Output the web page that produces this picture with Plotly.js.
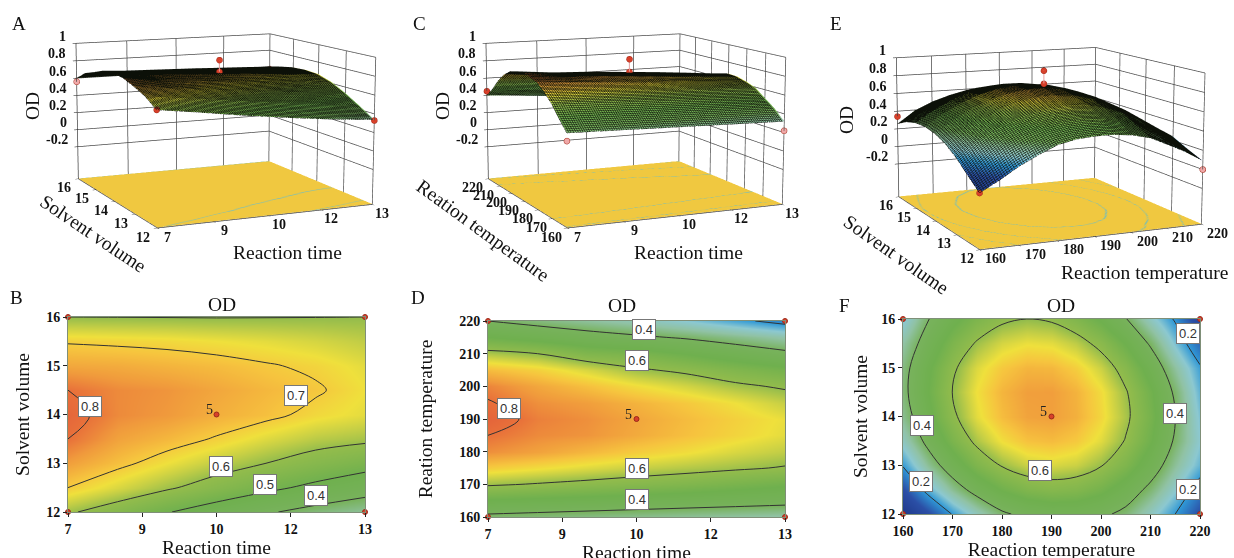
<!DOCTYPE html>
<html><head><meta charset="utf-8">
<script src="https://cdn.plot.ly/plotly-3.0.1.min.js"></script>
<style>html,body{margin:0;padding:0;background:#fff;overflow:hidden}#w{position:relative;width:1234px;height:558px;overflow:hidden}#g{position:absolute;left:0;top:-420px;width:1234px;height:1100px}</style></head>
<body><div id="w"><div id="g"></div></div>
<script>
const timeVals=[7,8,9,10,11,12,13];
const solventRows=[12,12.5,13,13.5,14,14.5,15,15.5,16];
const tempRows=[160,165,170,175,180,185,190,195,200,205,210,215,220];
const tempCols=[160,165,170,175,180,185,190,195,200,205,210,215,220];
const odTimeSolvent=[
[.61,.56,.505,.455,.41,.37,.34],
[.70,.655,.61,.565,.52,.48,.44],
[.755,.715,.675,.635,.60,.565,.535],
[.80,.75,.725,.695,.66,.63,.615],
[.82,.775,.76,.735,.715,.685,.665],
[.80,.775,.765,.745,.725,.707,.675],
[.745,.74,.73,.72,.705,.69,.665],
[.695,.69,.685,.675,.665,.652,.635],
[.60,.599,.598,.597,.598,.599,.60]];
const odTimeTemp=[
[.38,.37,.36,.35,.34,.33,.32],
[.49,.48,.47,.46,.45,.44,.43],
[.61,.595,.58,.565,.55,.53,.51],
[.70,.68,.66,.64,.625,.61,.595],
[.77,.75,.725,.70,.68,.655,.635],
[.80,.775,.765,.74,.715,.69,.665],
[.825,.785,.77,.745,.72,.695,.67],
[.805,.77,.755,.73,.705,.675,.64],
[.78,.745,.715,.68,.65,.615,.59],
[.72,.695,.655,.61,.585,.55,.52],
[.625,.60,.55,.535,.50,.46,.42],
[.50,.47,.44,.415,.39,.355,.32],
[.40,.37,.34,.31,.27,.22,.17]];
const odTempSolvent=[
[-.02,.085,.205,.30,.385,.425,.44,.44,.42,.375,.29,.20,.09],
[.09,.23,.347,.44,.504,.545,.561,.552,.517,.458,.375,.275,.16],
[.207,.344,.457,.545,.606,.644,.656,.644,.605,.542,.455,.342,.24],
[.294,.427,.536,.62,.678,.712,.72,.704,.662,.595,.504,.388,.27],
[.35,.479,.584,.665,.719,.749,.753,.734,.688,.617,.522,.402,.257],
[.374,.499,.601,.677,.728,.754,.755,.731,.682,.607,.509,.385,.236],
[.366,.488,.586,.659,.705,.728,.725,.698,.644,.566,.464,.336,.21],
[.328,.446,.54,.609,.652,.671,.664,.633,.576,.494,.388,.257,.13],
[.258,.395,.48,.54,.585,.60,.59,.55,.49,.405,.29,.19,.05]];
const timeTicks=[7,8.5,10,11.5,13], timeLabels=['7','9','10','12','13'];
const solventTicks=[12,13,14,15,16];
const tempTicks3=[160,170,180,190,200,210,220];
const odTicks=[-.2,0,.2,.4,.6,.8,1], odLabels=['-0.2','0','0.2','0.4','0.6','0.8','1'];
const ptA={x:[7,13,7,13,10,10],y:[12,12,16,16,14,14],z:[.61,.33,.56,.57,.76,.89],c:['r','r','p','r','r','r']};
const ptC={x:[7,13,7,13,10,10],y:[160,160,220,220,190,190],z:[.30,.22,.45,.15,.76,.90],c:['p','p','r','r','r','r']};
const ptE={x:[160,220,160,220,190,190],y:[12,12,16,16,14,14],z:[-.02,0,.34,.02,.80,.94],c:['r','p','r','r','r','r']};
const labelsB=[['0.8',7.44,14.17],['0.7',11.6,14.38],['0.6',10.1,12.93],['0.5',10.97,12.57],['0.4',12.01,12.34]];
const labelsD=[['0.4',10.15,217.4],['0.6',10,207.8],['0.8',7.43,193.2],['0.6',10,174.8],['0.4',10,165.3]];
const labelsF=[['0.2',217.5,15.71],['0.4',215,14.06],['0.6',187.7,12.9],['0.4',163.9,13.81],['0.2',163.7,12.66],['0.2',217.5,12.5]];

const SERIF='"Liberation Serif","Times New Roman",serif';
const colorStops=[[-.05,'#1c3484'],[.1,'#2b4fa6'],[.2,'#2f98d6'],[.27,'#8cc8d0'],[.33,'#90c2a4'],[.4,'#78b25c'],[.5,'#6fb04e'],[.6,'#93bc4c'],[.64,'#c6cf45'],[.675,'#efe03c'],[.71,'#f6c43e'],[.76,'#f09a3c'],[.8,'#e8703a'],[.85,'#e0583a']];
const cMin=-.05,cMax=.85;
const cs=colorStops.map(s=>[(s[0]-cMin)/(cMax-cMin),s[1]]);
const Y='#f0c840',C='#62bcd0';
const floorCs=[[0,Y],[.195,Y],[.2,C],[.205,Y],[.395,Y],[.4,C],[.405,Y],[.595,Y],[.6,C],[.605,Y],[1,Y]];
const floorZ=-.575;
const PTC={r:'#d8402a',p:'#f0a8a8'};

function surf(scene,x,y,z,dx,dy){return [
 {type:'surface',scene,x,y,z,surfacecolor:z,colorscale:cs,cmin:cMin,cmax:cMax,showscale:false,hoverinfo:'skip',
  lighting:{ambient:1,diffuse:0,specular:0,roughness:1,fresnel:0},
  contours:{x:{show:true,start:x[0],end:x[x.length-1],size:dx,color:'#0c1008',width:1,highlight:false},
            y:{show:true,start:y[0],end:y[y.length-1],size:dy,color:'#0c1008',width:1,highlight:false},
            z:{highlight:false}}},
 {type:'surface',scene,x,y,z:z.map(r=>r.map(()=>floorZ)),surfacecolor:z,colorscale:floorCs,cmin:0,cmax:1,showscale:false,hoverinfo:'skip',
  lighting:{ambient:1,diffuse:0,specular:0,roughness:1,fresnel:0},contours:{x:{highlight:false},y:{highlight:false},z:{highlight:false}}}
];}
function pts(scene,p){return [
 {type:'scatter3d',scene,mode:'lines',x:p.x.slice(4),y:p.y.slice(4),z:p.z.slice(4),line:{color:'#e8a0a0',width:2},hoverinfo:'skip',showlegend:false},
 {type:'scatter3d',scene,mode:'markers',x:p.x,y:p.y,z:p.z,marker:{size:3.5,color:p.c.map(k=>PTC[k]),line:{color:'#a02818',width:1}},hoverinfo:'skip',showlegend:false}
];}
function cont(xa,ya,x,y,z,start,end,size){return {type:'contour',xaxis:xa,yaxis:ya,x,y,z,colorscale:cs,zmin:cMin,zmax:cMax,showscale:false,
 contours:{coloring:'heatmap',start,end,size},line:{color:'#333',width:1,smoothing:1},hoverinfo:'skip'};}
function dots(xa,ya,x0,x1,y0,y1,cx,cy){return {type:'scatter',mode:'markers',xaxis:xa,yaxis:ya,cliponaxis:false,x:[x0,x1,x0,x1,cx],y:[y0,y0,y1,y1,cy],
 marker:{size:5,color:'#d8402a',line:{color:'#9a2a1a',width:1}},hoverinfo:'skip',showlegend:false};}

const data=[
 ...surf('scene',timeVals,solventRows,odTimeSolvent,.06,.046),...pts('scene',ptA),
 ...surf('scene2',timeVals,tempRows,odTimeTemp,.06,.7),...pts('scene2',ptC),
 ...surf('scene3',tempCols,solventRows,odTempSolvent,.6,.046),...pts('scene3',ptE),
 cont('x','y',timeVals,solventRows,odTimeSolvent,.4,.8,.1),dots('x','y',7,13,12,16,10,14),
 cont('x2','y2',timeVals,tempRows,odTimeTemp,.2,.8,.2),dots('x2','y2',7,13,160,220,10,190),
 cont('x3','y3',tempCols,solventRows,odTempSolvent,.2,.6,.2),dots('x3','y3',160,220,12,16,190,14)
];

const W=1234,H=1100,OFF=420;
function ax2(px0,px1,anchor,extra,isY){
 const dom=isY?[1-(px1+OFF)/H,1-(px0+OFF)/H]:[px0/W,px1/W];
 return Object.assign({domain:dom,anchor,ticks:'outside',ticklen:4,tickcolor:'#222',showgrid:false,zeroline:false,showline:true,mirror:true,linecolor:'#7f8f78',linewidth:1,
  tickfont:{family:SERIF,size:14,color:'#111',weight:'bold'}},extra);
}
function t(text,standoff){return {text,font:{family:SERIF,size:19.5,color:'#111'},standoff};}
function axis3(rng,tv,tt){return {range:rng,tickvals:tv,ticktext:tt,showticklabels:false,title:{text:''},showgrid:true,gridcolor:'#4a4a4a',gridwidth:1.5,zeroline:false,showbackground:false,showline:true,linecolor:'#444',linewidth:1.5,ticks:'outside',ticklen:3,tickcolor:'#111',showspikes:false};}
function sceneAnn(xt,xl,x0,yt,yl,y0,zx,zy,sx,sy){
 const f={family:SERIF,size:14,color:'#111',weight:'bold'},o=[];
 xt.forEach((v,i)=>o.push({x:v,y:y0,z:-.58,text:xl[i],showarrow:false,font:f,xshift:sx,yshift:-9}));
 yt.forEach((v,i)=>o.push({x:x0,y:v,z:-.58,text:yl[i],showarrow:false,font:f,xshift:sy,yshift:-9}));
 odTicks.forEach((v,i)=>o.push({x:zx,y:zy,z:v,text:odLabels[i],showarrow:false,font:f,xanchor:'right',xshift:-8,yshift:7}));
 return o;
}
function scene(dx0,dx1,xr,xt,xl,yr,yt,yl,eye,center,asp,sx,sy){return {
 domain:{x:[dx0/W,dx1/W],y:[0,1]},aspectmode:'manual',aspectratio:asp,
 camera:{eye,center,up:{x:0,y:0,z:1}},
 xaxis:axis3(xr,xt,xl),yaxis:axis3(yr,yt,yl),zaxis:axis3([-.58,1],odTicks,odLabels),
 annotations:sceneAnn(xt,xl,xr[0],yt,yl,yr[0],xr[0],yr[1],sx,sy)};}
const asp={x:1,y:1,z:.64};
const eye={x:-2.42,y:-5.32,z:1.03},center={x:-.058,y:.027,z:-.04};
const eyeE={x:-2.35,y:-5.16,z:1.05},centerE={x:-.058,y:.027,z:.036};
function lab(arr,xr,yr){return arr.map(a=>({x:a[1],y:a[2],xref:xr,yref:yr,text:a[0],showarrow:false,bgcolor:'#fff',bordercolor:'#777',borderwidth:1,borderpad:2,font:{family:'"Liberation Sans",Arial,sans-serif',size:13,color:'#333'}}));}
function paper(text,px,py,size,angle){return {xref:'paper',yref:'paper',x:px/W,y:1-(py+OFF)/H,text,showarrow:false,xanchor:'center',yanchor:'middle',textangle:angle||0,font:{family:SERIF,size,color:'#111'}};}
function five(xr,yr,x,y){return {xref:xr,yref:yr,x,y,text:'5',showarrow:false,font:{family:SERIF,size:14,color:'#222'}};}
const layout={width:W,height:H,margin:{l:0,r:0,t:0,b:0},paper_bgcolor:'rgba(0,0,0,0)',plot_bgcolor:'#fff',showlegend:false,
 scene:scene(0,410,[7,13],timeTicks,timeLabels,[12,16],solventTicks,solventTicks.map(String),eye,center,asp,10,-14),
 scene2:scene(410,820,[7,13],timeTicks,timeLabels,[160,220],tempTicks3,tempTicks3.map(String),eye,center,asp,10,-16),
 scene3:scene(824,1234,[160,220],tempTicks3,tempTicks3.map(String),[12,16],solventTicks,solventTicks.map(String),eyeE,centerE,asp,16,-13),
 xaxis:ax2(68,365,'y',{range:[7,13],tickvals:timeTicks,ticktext:timeLabels,title:t('Reaction time',0)}),
 yaxis:ax2(317,512,'x',{range:[12,16],tickvals:solventTicks,title:t('Solvent volume',11)},true),
 xaxis2:ax2(488,785,'y2',{range:[7,13],tickvals:timeTicks,ticktext:timeLabels,title:t('Reaction time',0)}),
 yaxis2:ax2(321,517,'x2',{range:[160,220],tickvals:tempTicks3,title:t('Reation temperature',21)},true),
 xaxis3:ax2(903,1200,'y3',{range:[160,220],tickvals:tempTicks3,title:t('Reaction temperature',0)}),
 yaxis3:ax2(319,514,'x3',{range:[12,16],tickvals:solventTicks,title:t('Solvent volume',8)},true),
 annotations:[
  paper('A',19,24,19),paper('B',16,297,19),paper('C',419,24,19),paper('D',418,297,19),paper('E',836,24,19),paper('F',844,305,19),
  paper('OD',222,304,19.5),paper('OD',622,305,19.5),paper('OD',1061,305,19.5),
  paper('OD',32,106,19.5,-90),paper('OD',442,106,19.5,-90),paper('OD',846,120,19.5,-90),
  paper('Reaction time',287,252,19.5),paper('Reaction time',688,252,19.5),paper('Reaction temperature',1144,272,19.5),
  paper('Solvent volume',93,233,19.5,34),paper('Reation temperature',483,230,19.5,36),paper('Solvent volume',896,254,19.5,35),
  ...lab(labelsB,'x','y'),...lab(labelsD,'x2','y2'),...lab(labelsF,'x3','y3'),
  five('x','y',9.85,14.1),five('x2','y2',9.84,191.4),five('x3','y3',188.4,14.1)
 ]};
Plotly.newPlot('g',data,layout,{displayModeBar:false});
</script></body></html>
